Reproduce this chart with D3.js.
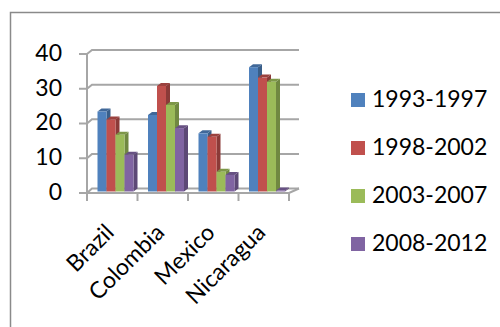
<!DOCTYPE html>
<html>
<head>
<meta charset="utf-8">
<script src="https://cdn.jsdelivr.net/npm/d3@7"></script>
<style>
  html, body { margin: 0; padding: 0; background: #fff; }
  svg { display: block; }
  text { font-family: Lato, "Open Sans", sans-serif; fill: #000; }
</style>
</head>
<body>
<svg id="chart" width="500" height="327"></svg>
<script>
const categories = ["Brazil", "Colombia", "Mexico", "Nicaragua"];
const seriesNames = ["1993-1997", "1998-2002", "2003-2007", "2008-2012"];
const s1993_1997 = [23.1, 22.1, 16.8, 35.9];
const s1998_2002 = [20.8, 30.5, 15.8, 32.9];
const s2003_2007 = [16.4, 25.0, 5.7, 31.7];
const s2008_2012 = [10.6, 18.3, 4.8, 0.3];
const yTicks = [0, 10, 20, 30, 40];
const seriesColors = ["#4F81BD", "#C0504D", "#9BBB59", "#8064A2"];

const seriesValues = [s1993_1997, s1998_2002, s2003_2007, s2008_2012];

const svg = d3.select("#chart");

// outer chart border
svg.append("rect")
  .attr("x", 10.5).attr("y", 12.5)
  .attr("width", 520).attr("height", 340)
  .attr("fill", "none").attr("stroke", "#8a8a8a").attr("stroke-width", 1.5);

// scales
const xFront = d3.scaleBand().domain(categories).range([87, 289]);
const yFront = d3.scaleLinear().domain([0, 40]).range([193, 54]);
const yBack = d3.scaleLinear().domain([0, 40]).range([188.5, 50]);
const yBar = d3.scaleLinear().domain([0, 40]).range([191.5, 53]);
const x1 = d3.scaleBand().domain(seriesNames).range([10.5, 46.5]);

const gridColor = "#a6a6a6";

// back wall gridlines with diagonal to front tick
const grid = svg.append("g");
yTicks.forEach(t => {
  const yf = yFront(t), yb = yBack(t);
  grid.append("path")
    .attr("d", `M87,${yf} L92,${yb} L299,${yb}`)
    .attr("fill", "none")
    .attr("stroke", gridColor)
    .attr("stroke-width", 2);
});
// floor front edge and right slant
grid.append("path")
  .attr("d", `M87,${yFront(0)} L289,${yFront(0)} L299,${yBack(0)}`)
  .attr("fill", "none").attr("stroke", gridColor).attr("stroke-width", 2);

// y axis (front)
const yAxis = svg.append("g");
yAxis.append("line")
  .attr("x1", 87).attr("x2", 87)
  .attr("y1", yFront(40)).attr("y2", yFront(0) + 8)
  .attr("stroke", gridColor).attr("stroke-width", 2);
yTicks.forEach(t => {
  yAxis.append("line")
    .attr("x1", 79).attr("x2", 87)
    .attr("y1", yFront(t)).attr("y2", yFront(t))
    .attr("stroke", gridColor).attr("stroke-width", 2);
  yAxis.append("text")
    .attr("x", 62).attr("y", yFront(t) + 1)
    .attr("text-anchor", "end")
    .attr("dominant-baseline", "middle")
    .attr("font-size", 23)
    .text(t);
});

// x axis ticks
const xTickPos = categories.map(c => xFront(c)).concat([xFront.range()[1]]);
xTickPos.forEach(x => {
  svg.append("line")
    .attr("x1", x).attr("x2", x)
    .attr("y1", yFront(0)).attr("y2", yFront(0) + 8)
    .attr("stroke", gridColor).attr("stroke-width", 2);
});

// bars (3D style)
const dx = 4, dy = -3;
const bars = svg.append("g");
categories.forEach((cat, ci) => {
  seriesNames.forEach((s, si) => {
    const v = seriesValues[si][ci];
    const x = xFront(cat) + x1(s);
    const w = x1.bandwidth();
    const yt = yBar(v), yb = yBar(0);
    const c = d3.color(seriesColors[si]);
    const side = c.darker(0.9);
    const top = c.darker(0.6);
    bars.append("path")
      .attr("d", `M${x + w},${yb} L${x + w + dx},${yb + dy} L${x + w + dx},${yt + dy} L${x + w},${yt} Z`)
      .attr("fill", side);
    bars.append("path")
      .attr("d", `M${x},${yt} L${x + dx},${yt + dy} L${x + w + dx},${yt + dy} L${x + w},${yt} Z`)
      .attr("fill", top);
    bars.append("rect")
      .attr("x", x).attr("y", yt)
      .attr("width", w).attr("height", yb - yt)
      .attr("fill", seriesColors[si]);
  });
});

// x labels
categories.forEach(cat => {
  const cx = xFront(cat) + xFront.bandwidth() / 2;
  svg.append("text")
    .attr("transform", `translate(${cx + 3},${234}) rotate(-45)`)
    .attr("text-anchor", "end")
    .attr("font-size", 23)
    .text(cat);
});

// legend
const legend = svg.append("g");
const legendY = d3.scalePoint().domain(seriesNames).range([100, 244]);
seriesNames.forEach((s, i) => {
  const cy = legendY(s);
  legend.append("rect")
    .attr("x", 351).attr("y", cy - 7)
    .attr("width", 14).attr("height", 14)
    .attr("fill", seriesColors[i]);
  legend.append("text")
    .attr("x", 372).attr("y", cy + 1)
    .attr("dominant-baseline", "middle")
    .attr("font-size", 23)
    .text(s);
});
</script>
</body>
</html>
